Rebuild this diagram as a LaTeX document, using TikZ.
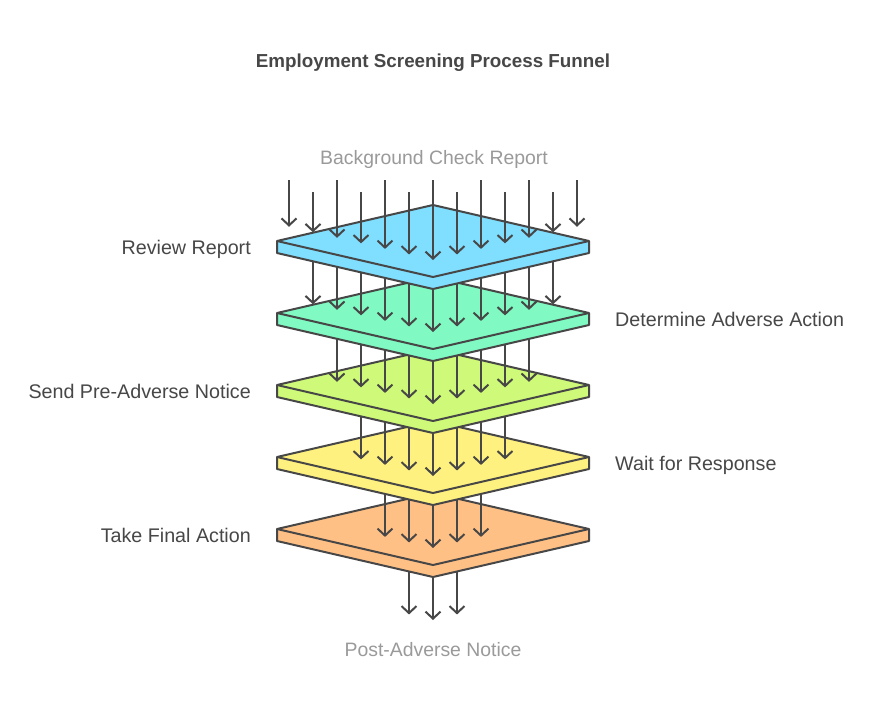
\documentclass[tikz,border=0pt]{standalone}
\usepackage{fontspec}
\setmainfont{Liberation Sans}
\usetikzlibrary{arrows.meta}
\definecolor{ink}{HTML}{474747}
\definecolor{muted}{HTML}{9A9A9A}
\definecolor{pBlue}{HTML}{80DEFF}
\definecolor{pGreen}{HTML}{80FAC2}
\definecolor{pLime}{HTML}{CFF978}
\definecolor{pYellow}{HTML}{FFF180}
\definecolor{pOrange}{HTML}{FFC085}
\begin{document}
\begin{tikzpicture}[x=1pt,y=-1pt,
  arr/.style={draw=ink, line width=2pt, -{Straight Barb[length=7pt,width=15pt]}},
  plate/.style={draw=ink, line width=2pt, line join=round},
  lbl/.style={text=ink, font=\fontsize{19.7}{23}\selectfont, inner sep=0pt},
  ends/.style={text=muted, font=\fontsize{19.4}{23}\selectfont, inner sep=0pt},
  ttl/.style={text=ink, font=\bfseries\fontsize{18.8}{22}\selectfont, inner sep=0pt}]
\useasboundingbox (0,0) rectangle (878,710);
\fill[white] (0,0) rectangle (878,710);

% title and end texts
\node[ttl, anchor=base] (title) at (433,67) {Employment Screening Process Funnel};
\node[ends, anchor=base] (input) at (434,164) {Background Check Report};
\node[ends, anchor=base] (output) at (433,656) {Post-Adverse Notice};

% final arrows (under plate 5)
\foreach \k in {-1,0,1}{
  \pgfmathsetmacro\tx{433+24*\k}
  \pgfmathsetmacro\ty{620-5.54*abs(\k)}
  \coordinate (fs\k) at (\tx,529);
  \coordinate (fe\k) at (\tx,\ty);
  \draw[arr] (fs\k) -- (fe\k);
}

% plates with arrows, from bottom to top
\foreach \i/\c in {5/pOrange,4/pYellow,3/pLime,2/pGreen,1/pBlue}{
  \pgfmathsetmacro\cy{241+72*(\i-1)}
  \coordinate (P\i-l) at (277,\cy);
  \coordinate (P\i-r) at (589,\cy);
  \coordinate (P\i-t) at (433,\cy-36);
  \coordinate (P\i-f) at (433,\cy+36);
  \coordinate (P\i-lb) at (277,\cy+12);
  \coordinate (P\i-rb) at (589,\cy+12);
  \coordinate (P\i-fb) at (433,\cy+48);
  \filldraw[plate, fill=\c] (P\i-l) -- (P\i-t) -- (P\i-r) -- (P\i-rb) -- (P\i-fb) -- (P\i-lb) -- cycle;
  \draw[plate] (P\i-l) -- (P\i-f) -- (P\i-r);
  \pgfmathtruncatemacro\n{7-\i}
  \foreach \k in {-\n,...,\n}{
    \pgfmathsetmacro\tx{433+24*\k}
    \pgfmathsetmacro\ty{\cy+19-5.54*abs(\k)}
    \pgfmathsetmacro\sy{ifthenelse(\i==1, 180+12*mod(abs(\k),2), \cy-72)}
    \coordinate (s\i\k) at (\tx,\sy);
    \coordinate (e\i\k) at (\tx,\ty);
    \draw[arr] (s\i\k) -- (e\i\k);
  }
}

% stage labels
\node[lbl, anchor=base east] (l1) at (251,254) {Review Report};
\node[lbl, anchor=base west] (l2) at (615,326) {Determine Adverse Action};
\node[lbl, anchor=base east] (l3) at (251,398) {Send Pre-Adverse Notice};
\node[lbl, anchor=base west] (l4) at (615,470) {Wait for Response};
\node[lbl, anchor=base east] (l5) at (251,542) {Take Final Action};
\end{tikzpicture}
\end{document}
